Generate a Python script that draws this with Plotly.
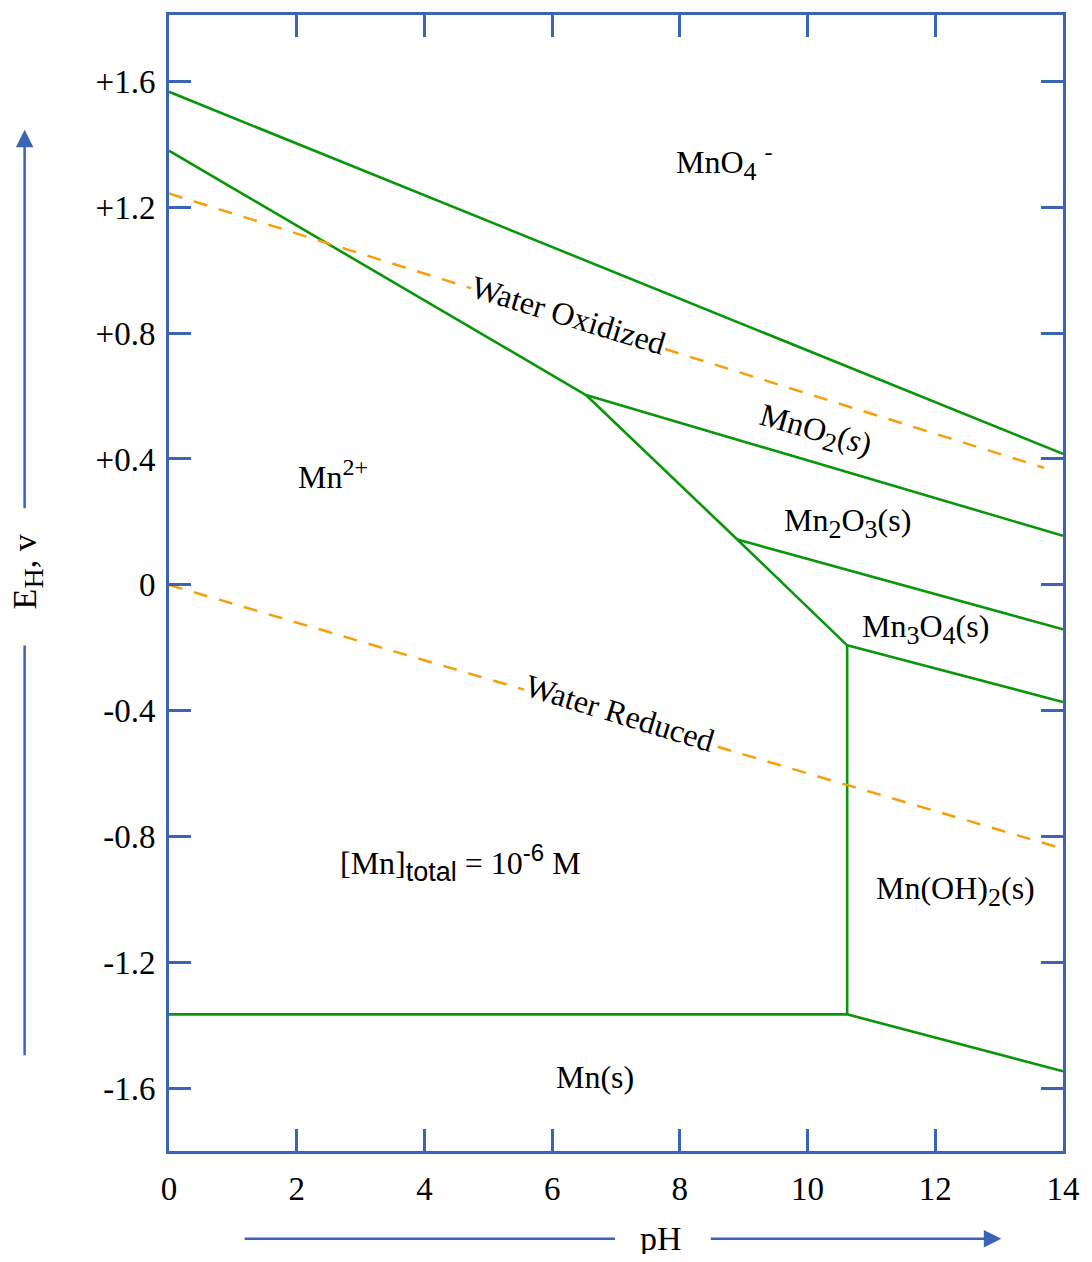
import plotly.graph_objects as go

# ---------------- data ----------------
x_tickvals = [0, 2, 4, 6, 8, 10, 12, 14]
y_tickvals = [1.6, 1.2, 0.8, 0.4, 0.0, -0.4, -0.8, -1.2, -1.6]
y_ticktext = ["+1.6", "+1.2", "+0.8", "+0.4", "0", "-0.4", "-0.8", "-1.2", "-1.6"]

# green stability-field boundaries (pH, E_H in volts)
ph_mno4_mno2 = [0, 14]
e_mno4_mno2 = [1.566, 0.416]
ph_mno4_mn2 = [0, 6.53]
e_mno4_mn2 = [1.379, 0.603]
ph_mn2_mno2 = [6.53, 8.90]
e_mn2_mno2 = [0.603, 0.144]
ph_mno2_mn2o3 = [6.53, 14]
e_mno2_mn2o3 = [0.603, 0.156]
ph_mn2_mn2o3 = [8.90, 10.62]
e_mn2_mn2o3 = [0.144, -0.192]
ph_mn2o3_mn3o4 = [8.90, 14]
e_mn2o3_mn3o4 = [0.144, -0.141]
ph_mn3o4_mnoh2 = [10.62, 14]
e_mn3o4_mnoh2 = [-0.192, -0.372]
ph_mn2_mnoh2 = [10.62, 10.62]
e_mn2_mnoh2 = [-0.192, -1.364]
ph_mn2_mn = [0, 10.62]
e_mn2_mn = [-1.364, -1.364]
ph_mnoh2_mn = [10.62, 14]
e_mnoh2_mn = [-1.364, -1.545]

# water stability limits (orange dashed)
ph_water_ox = [0, 13.70]
e_water_ox = [1.243, 0.372]
ph_water_red = [0, 14]
e_water_red = [0.0, -0.838]


def sub(t):
    return "<sub><span style='font-size:26px'>" + t + "</span></sub>"


def sup(t):
    return "<sup><span style='font-size:24px'>" + t + "</span></sup>"


# region labels: (text, pH, E_H, angle, white background)
label_text = ["MnO" + sub("4") + " " + sup("-"), "Mn" + sup("2+"),
              "MnO" + sub("2") + "(<i>s</i>)",
              "Mn" + sub("2") + "O" + sub("3") + "(s)",
              "Mn" + sub("3") + "O" + sub("4") + "(s)",
              "Mn(OH)" + sub("2") + "(s)", "Mn(s)",
              "[Mn]<sub><span style='font-size:27px;font-family:Liberation Sans'>total</span></sub>"
              " = 10<sup><span style='font-size:24px;font-family:Liberation Sans'>-6</span></sup> M",
              "Water Oxidized", "Water Reduced"]
label_ph = [8.70, 2.57, 10.12, 10.63, 11.85, 12.32, 6.67, 4.57, 6.25, 7.06]
label_e = [1.341, 0.352, 0.486, 0.195, -0.141, -0.971, -1.563, -0.883, 0.857, -0.408]
label_angle = [0, 0, 16, 0, 0, 0, 0, 0, 17, 17]
label_bg = [False, False, False, False, False, False, False, False, True, True]

# ---------------- styles ----------------
GREEN = "#0a960a"
ORANGE = "#f5a00a"
BLUE = "#3b64b4"
FONT = "Liberation Serif"

fig = go.Figure()

green_lines = [
    (ph_mno4_mno2, e_mno4_mno2), (ph_mno4_mn2, e_mno4_mn2), (ph_mn2_mno2, e_mn2_mno2),
    (ph_mno2_mn2o3, e_mno2_mn2o3), (ph_mn2_mn2o3, e_mn2_mn2o3), (ph_mn2o3_mn3o4, e_mn2o3_mn3o4),
    (ph_mn3o4_mnoh2, e_mn3o4_mnoh2), (ph_mn2_mnoh2, e_mn2_mnoh2), (ph_mn2_mn, e_mn2_mn),
    (ph_mnoh2_mn, e_mnoh2_mn),
]
for xs, ys in green_lines:
    fig.add_trace(go.Scatter(x=xs, y=ys, mode="lines",
                             line=dict(color=GREEN, width=2.6), showlegend=False,
                             hoverinfo="skip"))

for xs, ys in [(ph_water_ox, e_water_ox), (ph_water_red, e_water_red)]:
    fig.add_trace(go.Scatter(x=xs, y=ys, mode="lines",
                             line=dict(color=ORANGE, width=2.5, dash="14px,12px"),
                             showlegend=False, hoverinfo="skip"))

for t, x, y, a, bg in zip(label_text, label_ph, label_e, label_angle, label_bg):
    fig.add_annotation(x=x, y=y, text=t, showarrow=False, textangle=a,
                       font=dict(family=FONT, size=32, color="black"),
                       bgcolor="white" if bg else "rgba(0,0,0,0)", borderpad=0,
                       xanchor="center", yanchor="middle")

# axis titles with arrows
fig.add_annotation(xref="paper", yref="paper", x=0.550, y=-0.0773, text="pH",
                   xanchor="center", yanchor="middle",
                   showarrow=False, font=dict(family=FONT, size=34, color="black"))
fig.add_annotation(xref="paper", yref="paper", x=-0.158, y=0.510,
                   text="E<sub><span style='font-size:28px'>H</span></sub>, v",
                   xanchor="center", yanchor="middle",
                   textangle=-90, showarrow=False,
                   font=dict(family=FONT, size=34, color="black"))

# x arrow
fig.add_shape(type="line", xref="paper", yref="paper", x0=0.0846, x1=0.4989,
              y0=-0.0773, y1=-0.0773, line=dict(color=BLUE, width=2.5))
fig.add_annotation(xref="paper", yref="paper", x=0.931, y=-0.0773, ax=-292, ay=0,
                   text="", showarrow=True, arrowhead=2, arrowsize=1.4,
                   arrowwidth=2.5, arrowcolor=BLUE, standoff=0)
# y arrow
fig.add_shape(type="line", xref="paper", yref="paper", x0=-0.1615, x1=-0.1615,
              y0=0.0843, y1=0.445, line=dict(color=BLUE, width=2.5))
fig.add_annotation(xref="paper", yref="paper", x=-0.1615, y=0.899, ax=0, ay=380,
                   text="", showarrow=True, arrowhead=2, arrowsize=1.4,
                   arrowwidth=2.5, arrowcolor=BLUE, standoff=0)

axis_common = dict(showgrid=False, zeroline=False, showline=True, linecolor=BLUE,
                   linewidth=3, mirror="ticks", ticks="inside", ticklen=22,
                   tickwidth=3, tickcolor=BLUE,
                   tickfont=dict(family=FONT, size=33, color="black"))

fig.update_xaxes(range=[0, 14], tickvals=x_tickvals, ticklabelstandoff=6, **axis_common)
fig.update_yaxes(range=[-1.798, 1.810], tickvals=y_tickvals, ticktext=y_ticktext,
                 ticklabelstandoff=4, **axis_common)

# page has an 8px body margin: figure is 1076x1246 so the plot area lands
# at the same place as in the reference
fig.update_layout(width=1076, height=1246,
                  margin=dict(l=161, r=17, t=4, b=103),
                  plot_bgcolor="white", paper_bgcolor="white",
                  showlegend=False)

fig.write_html("out.html")
